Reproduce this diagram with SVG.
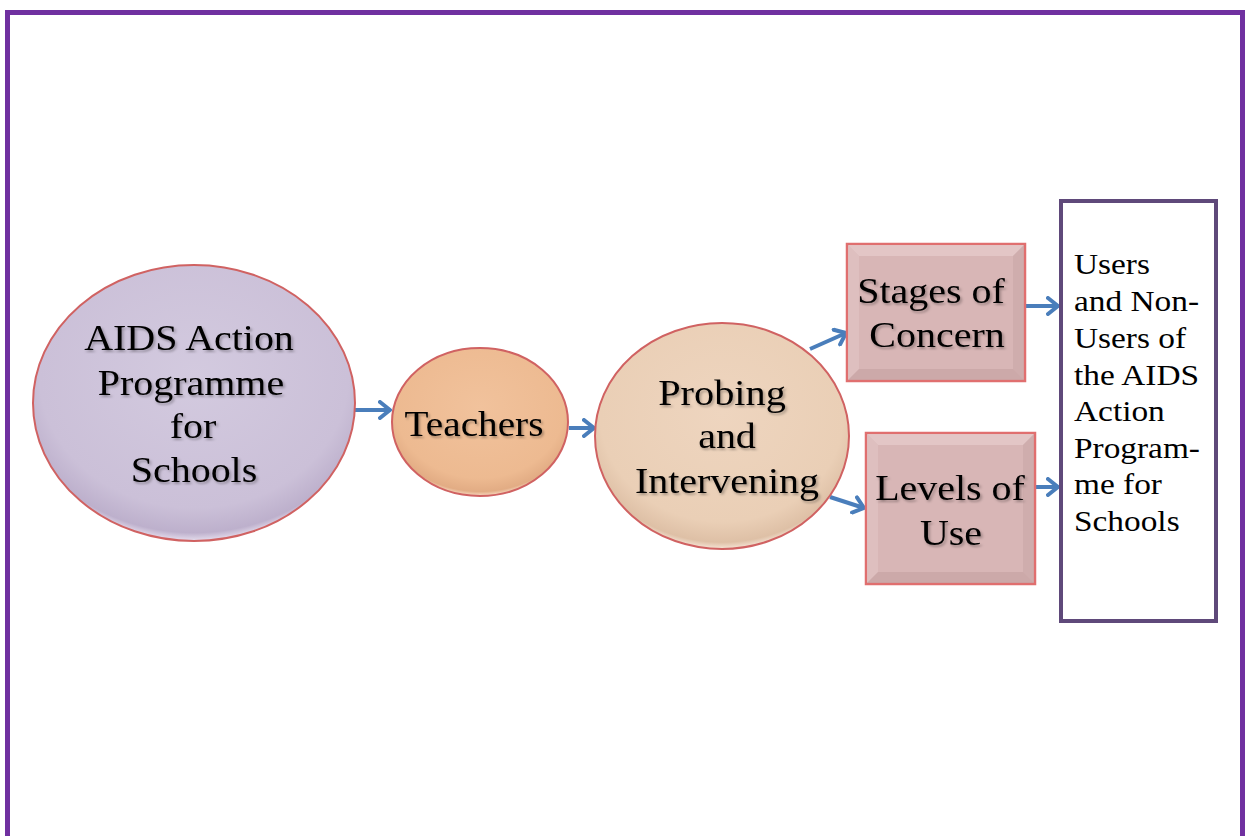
<svg xmlns="http://www.w3.org/2000/svg" width="1246" height="836" viewBox="0 0 1246 836">
<defs>
  <style>
    .lbl{font-family:"Liberation Serif","Times New Roman",serif;font-size:36px;fill:#000;text-anchor:middle;filter:url(#tsh)}
    .rlbl{font-family:"Liberation Serif","Times New Roman",serif;font-size:29px;fill:#000}
    .shape{stroke:#D06262;stroke-width:2}
    .conn{stroke:#4A7EBB;stroke-width:4;fill:none;marker-end:url(#arr)}
  </style>
  <filter id="tsh" x="-10%" y="-30%" width="120%" height="160%">
    <feDropShadow dx="1.5" dy="2" stdDeviation="1.2" flood-color="#000" flood-opacity="0.3"/>
  </filter>
  <radialGradient id="gLav" cx="50%" cy="40%" r="60%">
    <stop offset="0" stop-color="#D3CADF"/>
    <stop offset="0.8" stop-color="#CBC0D8"/>
    <stop offset="0.95" stop-color="#BDB0CC"/>
    <stop offset="1" stop-color="#E6DEEE"/>
  </radialGradient>
  <radialGradient id="gOr" cx="50%" cy="40%" r="60%">
    <stop offset="0" stop-color="#F1C29C"/>
    <stop offset="0.8" stop-color="#EDBA91"/>
    <stop offset="0.95" stop-color="#E2AC84"/>
    <stop offset="1" stop-color="#F8DCC4"/>
  </radialGradient>
  <radialGradient id="gPe" cx="50%" cy="40%" r="60%">
    <stop offset="0" stop-color="#EED5BF"/>
    <stop offset="0.8" stop-color="#EACFB6"/>
    <stop offset="0.95" stop-color="#DEC0A6"/>
    <stop offset="1" stop-color="#F6E5D6"/>
  </radialGradient>
  <marker id="arr" viewBox="0 0 14 20" refX="12" refY="10" markerWidth="14" markerHeight="20" markerUnits="userSpaceOnUse" orient="auto">
    <path d="M2,2 L12,10 L2,18" fill="none" stroke="#4A7EBB" stroke-width="4" stroke-linecap="round" stroke-linejoin="round"/>
  </marker>
</defs>

<rect x="7.5" y="12.5" width="1235" height="900" fill="#FFFFFF" stroke="#7030A0" stroke-width="5"/>

<g id="connectors">
  <line class="conn" x1="355" y1="410" x2="390" y2="410"/>
  <line class="conn" x1="569" y1="428" x2="594" y2="428"/>
  <line class="conn" x1="810" y1="349" x2="846" y2="333"/>
  <line class="conn" x1="830" y1="497" x2="864" y2="508"/>
  <line class="conn" x1="1024" y1="306" x2="1058" y2="306"/>
  <line class="conn" x1="1034" y1="487" x2="1058" y2="487"/>
</g>

<g id="node-aids">
  <ellipse class="shape" cx="194" cy="403" rx="161" ry="138" fill="url(#gLav)"/>
  <text class="lbl" transform="translate(189,350) scale(1.11,1)">AIDS Action</text>
  <text class="lbl" transform="translate(191,395) scale(1.11,1)">Programme</text>
  <text class="lbl" transform="translate(193,438) scale(1.11,1)">for</text>
  <text class="lbl" transform="translate(194,482) scale(1.11,1)">Schools</text>
</g>

<g id="node-teachers">
  <ellipse class="shape" cx="480" cy="422" rx="88" ry="74" fill="url(#gOr)"/>
  <text class="lbl" transform="translate(474,436) scale(1.09,1)">Teachers</text>
</g>

<g id="node-probing">
  <ellipse class="shape" cx="722" cy="436" rx="127" ry="113" fill="url(#gPe)"/>
  <text class="lbl" transform="translate(722,405) scale(1.12,1)">Probing</text>
  <text class="lbl" transform="translate(727,448) scale(1.11,1)">and</text>
  <text class="lbl" transform="translate(727,493) scale(1.11,1)">Intervening</text>
</g>

<g id="node-stages">
  <rect x="847" y="244" width="178" height="137" fill="#D8B6B6" stroke="#E06F6F" stroke-width="2.5"/>
  <polygon points="848,245 1024,245 1013,256 859,256" fill="#E6CBCB" opacity="0.8"/>
  <polygon points="848,245 859,256 859,369 848,380" fill="#E0C2C2" opacity="0.8"/>
  <polygon points="1024,245 1024,380 1013,369 1013,256" fill="#C6A3A3" opacity="0.5"/>
  <polygon points="848,380 859,369 1013,369 1024,380" fill="#BF9B9B" opacity="0.5"/>
  <text class="lbl" transform="translate(931,303) scale(1.11,1)">Stages of</text>
  <text class="lbl" transform="translate(937,347) scale(1.11,1)">Concern</text>
</g>

<g id="node-levels">
  <rect x="866" y="433" width="169" height="151" fill="#D8B6B6" stroke="#E06F6F" stroke-width="2.5"/>
  <polygon points="867,434 1034,434 1023,445 878,445" fill="#E6CBCB" opacity="0.8"/>
  <polygon points="867,434 878,445 878,572 867,583" fill="#E0C2C2" opacity="0.8"/>
  <polygon points="1034,434 1034,583 1023,572 1023,445" fill="#C6A3A3" opacity="0.5"/>
  <polygon points="867,583 878,572 1023,572 1034,583" fill="#BF9B9B" opacity="0.5"/>
  <text class="lbl" transform="translate(950,500) scale(1.11,1)">Levels of</text>
  <text class="lbl" transform="translate(951,545) scale(1.11,1)">Use</text>
</g>

<g id="node-users">
  <rect x="1061" y="201" width="155" height="420" fill="#FFFFFF" stroke="#5F497A" stroke-width="4"/>
  <text class="rlbl" transform="translate(1074,274) scale(1.15,1)">Users</text>
  <text class="rlbl" transform="translate(1074,311) scale(1.15,1)">and Non-</text>
  <text class="rlbl" transform="translate(1074,348) scale(1.15,1)">Users of</text>
  <text class="rlbl" transform="translate(1074,385) scale(1.15,1)">the AIDS</text>
  <text class="rlbl" transform="translate(1074,421) scale(1.15,1)">Action</text>
  <text class="rlbl" transform="translate(1074,458) scale(1.15,1)">Program-</text>
  <text class="rlbl" transform="translate(1074,494) scale(1.15,1)">me for</text>
  <text class="rlbl" transform="translate(1074,531) scale(1.15,1)">Schools</text>
</g>
</svg>
